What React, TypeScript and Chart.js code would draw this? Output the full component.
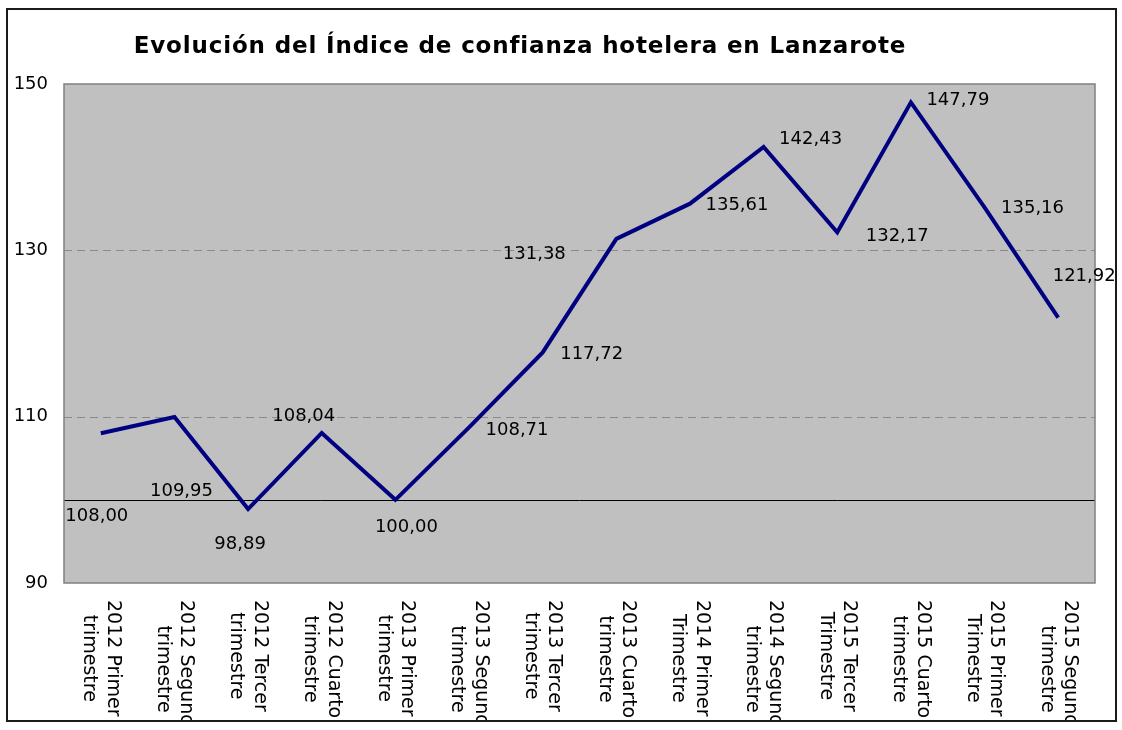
import { useEffect, useRef } from 'react';
import { Chart, registerables } from 'chart.js';

Chart.register(...registerables);

const TITLE = 'Evolución del Índice de confianza hotelera en Lanzarote';

const CATEGORIES: string[][] = [
  ['2012 Primer', 'trimestre'],
  ['2012 Segundo', 'trimestre'],
  ['2012 Tercer', 'trimestre'],
  ['2012 Cuarto', 'trimestre'],
  ['2013 Primer', 'trimestre'],
  ['2013 Segundo', 'trimestre'],
  ['2013 Tercer', 'trimestre'],
  ['2013 Cuarto', 'trimestre'],
  ['2014 Primer', 'Trimestre'],
  ['2014 Segundo', 'trimestre'],
  ['2015 Tercer', 'Trimestre'],
  ['2015 Cuarto', 'trimestre'],
  ['2015 Primer', 'Trimestre'],
  ['2015 Segundo', 'trimestre'],
];

const VALUES: number[] = [
  108.0, 109.95, 98.89, 108.04, 100.0, 108.71, 117.72,
  131.38, 135.61, 142.43, 132.17, 147.79, 135.16, 121.92,
];

const Y_MIN = 90;
const Y_MAX = 150;
const Y_STEP = 20;
const AXIS_CROSS = 100;

// label placement (pixel offsets of each data label centre from its point)
const LABEL_OFFSETS: number[][] = [
  [-4, 83], [7, 74], [-8, 35], [-18, -17], [11, 27], [48, 3], [49, 2],
  [-82, 15], [47, 2], [47, -8], [60, 4], [47, -2], [48, 1], [26, -41],
];

const FONT = '"DejaVu Sans", Verdana, sans-serif';

const fmt = (v: number) => v.toFixed(2).replace('.', ',');

const decorPlugin = {
  id: 'decor',
  beforeDraw(chart: any) {
    const { ctx, width, height } = chart;
    ctx.save();
    ctx.fillStyle = '#ffffff';
    ctx.fillRect(0, 0, width, height);
    ctx.restore();
  },
  beforeDatasetsDraw(chart: any) {
    const { ctx, chartArea: a } = chart;
    const y = chart.scales.y;
    ctx.save();
    ctx.fillStyle = '#c0c0c0';
    ctx.fillRect(a.left, a.top, a.right - a.left, a.bottom - a.top);
    // dashed grid lines
    ctx.strokeStyle = '#8a8a8a';
    ctx.lineWidth = 1;
    ctx.setLineDash([8, 5]);
    for (let v = Y_MIN + Y_STEP; v < Y_MAX; v += Y_STEP) {
      const py = Math.round(y.getPixelForValue(v)) + 0.5;
      ctx.beginPath();
      ctx.moveTo(a.left, py);
      ctx.lineTo(a.right, py);
      ctx.stroke();
    }
    ctx.setLineDash([]);
    // horizontal axis crossing
    const cy = Math.round(y.getPixelForValue(AXIS_CROSS)) + 0.5;
    ctx.strokeStyle = '#000000';
    ctx.beginPath();
    ctx.moveTo(a.left, cy);
    ctx.lineTo(a.right, cy);
    ctx.stroke();
    // plot border
    ctx.strokeStyle = '#808080';
    ctx.lineWidth = 1.5;
    ctx.strokeRect(a.left, a.top, a.right - a.left, a.bottom - a.top);
    ctx.restore();
  },
  afterDraw(chart: any) {
    const { ctx, chartArea: a } = chart;
    const meta = chart.getDatasetMeta(0);
    const xs = chart.scales.x;
    ctx.save();
    // data labels
    ctx.font = `18px ${FONT}`;
    ctx.fillStyle = '#000000';
    ctx.textAlign = 'center';
    ctx.textBaseline = 'middle';
    meta.data.forEach((pt: any, i: number) => {
      const off = LABEL_OFFSETS[i] || [0, -15];
      ctx.fillText(fmt(VALUES[i]), pt.x + off[0], pt.y + off[1]);
    });
    // category labels (rotated clockwise)
    ctx.save();
    ctx.beginPath();
    ctx.rect(0, a.bottom + 2, chart.width, 720 - a.bottom - 2);
    ctx.clip();
    ctx.font = `19px ${FONT}`;
    const lineH = 23.4;
    const top = a.bottom + 17;
    CATEGORIES.forEach((lines, i) => {
      const x = xs.getPixelForValue(i);
      const maxW = Math.max(...lines.map((l) => ctx.measureText(l).width));
      const cy = top + maxW / 2;
      ctx.save();
      ctx.translate(x, cy);
      ctx.rotate(Math.PI / 2);
      ctx.textAlign = 'center';
      ctx.textBaseline = 'middle';
      const n = lines.length;
      lines.forEach((l, j) => {
        const ly = (j - (n - 1) / 2) * lineH;
        ctx.fillText(l, 0, ly);
      });
      ctx.restore();
    });
    ctx.restore();
    // title
    ctx.save();
    ctx.font = `bold 23px ${FONT}`;
    try {
      (ctx as any).letterSpacing = '0.85px';
    } catch (e) {
      /* ignore */
    }
    ctx.textAlign = 'center';
    ctx.textBaseline = 'alphabetic';
    ctx.fillStyle = '#000000';
    ctx.fillText(TITLE, 520, 53);
    ctx.restore();
    // outer border
    ctx.strokeStyle = '#1a1a1a';
    ctx.lineWidth = 2;
    ctx.strokeRect(7, 9, 1109, 712);
    ctx.restore();
  },
};

export default function App() {
  const ref = useRef<HTMLCanvasElement | null>(null);
  useEffect(() => {
    if (!ref.current) return;
    const chart = new Chart(ref.current, {
      type: 'line',
      data: {
        labels: CATEGORIES.map((c) => c.join(' ')),
        datasets: [
          {
            data: VALUES,
            borderColor: '#000080',
            borderWidth: 4,
            pointRadius: 0,
            tension: 0,
            fill: false,
          },
        ],
      },
      options: {
        animation: false,
        responsive: false,
        maintainAspectRatio: false,
        layout: { padding: { left: 0, top: 84, right: 27, bottom: 0 } },
        plugins: {
          legend: { display: false },
          title: { display: false },
          tooltip: { enabled: false },
        },
        scales: {
          x: {
            type: 'category',
            offset: true,
            grid: { display: false },
            border: { display: false },
            ticks: { display: false },
            afterFit: (s: any) => {
              s.height = 147;
            },
          },
          y: {
            min: Y_MIN,
            max: Y_MAX,
            ticks: {
              stepSize: Y_STEP,
              color: '#000000',
              padding: 16,
              font: { family: FONT, size: 18 },
            },
            grid: { display: false, drawTicks: false },
            border: { display: false },
            afterFit: (s: any) => {
              s.width = 64;
            },
          },
        },
      },
      plugins: [decorPlugin],
    });
    return () => chart.destroy();
  }, []);
  return (
    <div style={{ position: 'fixed', left: 0, top: 0, width: 1122, height: 730, background: '#fff' }}>
      <canvas ref={ref} width={1122} height={730} style={{ display: 'block' }} />
    </div>
  );
}
